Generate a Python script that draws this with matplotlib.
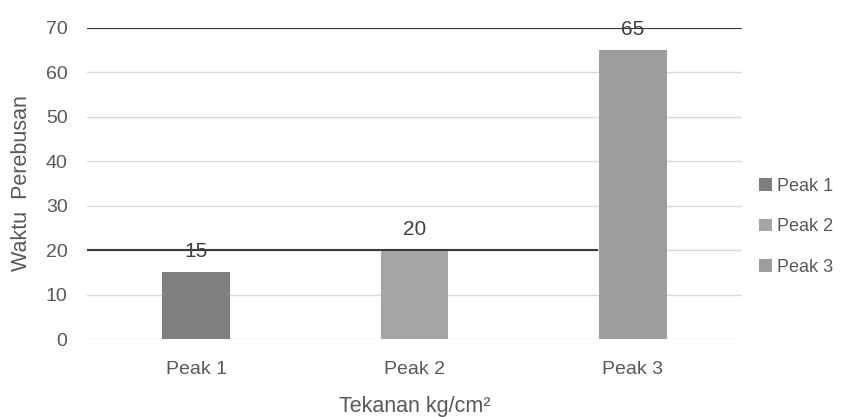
import numpy as np
import matplotlib.pyplot as plt

plt.rcParams['font.family'] = ['Liberation Sans', 'DejaVu Sans']

# data
categories = ['Peak 1', 'Peak 2', 'Peak 3']
values = [15, 20, 65]
bar_colors = ['#7f7f7f', '#a5a5a5', '#9d9d9d']

# dark horizontal lines over the chart (scan artefacts in the source)
dark_lines_y = [70, 20]
dark_lines_xmax = [2.5, 1.84]

text_gray = '#595959'

fig = plt.figure(figsize=(8.64, 4.17), dpi=100)
ax = fig.add_axes([87 / 864, 1 - 339 / 417, (742 - 87) / 864, (339 - 28) / 417])

x = np.arange(len(categories))
for i, (cat, val, col) in enumerate(zip(categories, values, bar_colors)):
    ax.bar(x[i], val, width=0.31, color=col, label=cat, zorder=3)
    ax.text(x[i], val + 2.6, str(val), ha='center', va='bottom',
            fontsize=15, color='#404040', zorder=5)

for yv, xm in zip(dark_lines_y, dark_lines_xmax):
    ax.hlines(yv, -0.5, xm, color='#3a3a3a', linewidth=1.5, zorder=4)

ax.set_xlim(-0.5, 2.5)
ax.set_ylim(0, 70)
ax.set_yticks(np.arange(0, 71, 10))
ax.set_xticks(x)
ax.set_xticklabels(categories)
ax.grid(axis='y', color='#d9d9d9', linewidth=1, zorder=0)
ax.set_axisbelow(True)
for s in ax.spines.values():
    s.set_visible(False)
ax.tick_params(axis='both', length=0, labelsize=14, colors=text_gray)
ax.tick_params(axis='y', pad=14)
ax.tick_params(axis='x', pad=16)

ax.set_ylabel('Waktu  Perebusan', fontsize=15.5, color=text_gray, labelpad=10)
ax.set_xlabel('Tekanan kg/cm²', fontsize=15.5, color=text_gray, labelpad=13)

fig.legend(loc='center left', bbox_to_anchor=(743 / 864, 1 - 227 / 417),
           frameon=False, handlelength=0.7, handleheight=0.7, handletextpad=0.3,
           labelspacing=1.3, fontsize=13, labelcolor=text_gray)

fig.savefig('out.png', dpi=100)
